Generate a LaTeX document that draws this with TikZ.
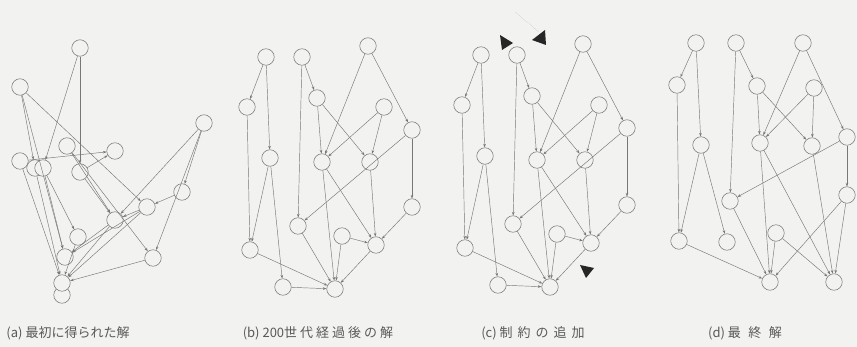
\documentclass[tikz,border=0pt]{standalone}
\usepackage{fontspec}
\newfontfamily\cjk{Noto Sans CJK JP}
\usetikzlibrary{arrows.meta}
\definecolor{bgc}{HTML}{F2F2F0}
\definecolor{inkc}{HTML}{777777}
\newcommand\cg{\hspace{3pt}}
\newcommand\cgw{\hspace{5pt}}
\newcommand\cgx{\hspace{7.5pt}}
\tikzset{
  vtx/.style={circle, draw=inkc, fill=bgc, line width=0.55pt, minimum size=16.5pt, inner sep=0pt},
  edge/.style={draw=inkc, line width=0.45pt, -{Stealth[length=3.6pt,width=2.6pt]}},
  caption/.style={font=\cjk\fontsize{13}{15}\selectfont, text=black!65},
  pointer/.style={fill=black!85}
}
\begin{document}
\begin{tikzpicture}[x=1pt,y=-1pt]
  \useasboundingbox (0,0) rectangle (857,347);
  \fill[bgc] (0,0) rectangle (857,347);

  % (a) first solution
  \foreach \n/\x/\y in {1/80/48, 2/20/87, 3/204/123, 4/67/146, 5/115/151, 6/20/161,
      7/35/168, 8/43/168, 9/80/172, 10/182/192, 11/147/207, 12/115/220, 13/78/237,
      14/65/257, 15/153/258, 17/62/295, 16/62/283}
    \node[vtx] (a\n) at (\x,\y) {};
  \foreach \s/\t in {1/8, 1/9, 2/7, 2/14, 2/11, 6/5, 6/16, 7/16, 8/14, 8/13, 9/5, 9/12,
      4/12, 4/15, 3/12, 3/10, 3/15, 10/11, 11/12, 12/14, 12/16, 11/16, 15/16, 13/16, 11/14}
    \draw[edge] (a\s) -- (a\t);

  % (b) after 200 generations, (c) same graph with constraints
  \foreach \n/\x/\y in {1/266/57, 2/302/57, 3/368/46, 4/247/107, 5/317/98, 6/384/107,
      7/412/130, 8/270/158, 9/322/162, 10/370/162, 11/412/207, 12/298/226, 13/342/236,
      14/376/245, 15/250/250, 16/283/287, 17/335/289} {
    \node[vtx] (b\n) at (\x,\y) {};
    \node[vtx] (c\n) at (\x+215,\y-2) {};
  }
  \foreach \p in {b,c}
    \foreach \s/\t in {1/4, 1/8, 2/5, 2/12, 3/9, 3/7, 4/15, 5/9, 5/10, 6/9, 6/10, 7/12,
        7/11, 8/15, 8/16, 9/17, 9/14, 10/14, 11/14, 12/17, 13/17, 13/14, 14/17, 15/17, 16/17}
      \draw[edge] (\p\s) -- (\p\t);

  % markers in (c)
  \draw[gray!60, densely dotted, line width=0.4pt] (515,12) -- (539,32);
  \fill[pointer] (500,35) -- (513,43) -- (502,50) -- cycle;
  \fill[pointer] (545,30) -- (532,40) -- (546,45) -- cycle;
  \fill[pointer] (580,265) -- (594,268) -- (586,278) -- cycle;

  % (d) final solution
  \foreach \n/\x/\y in {1/696/43, 2/736/43, 3/803/43, 4/677/85, 5/757/86, 6/814/88,
      7/847/137, 8/701/145, 9/760/143, 10/812/146, 11/847/195, 12/730/201, 13/776/233,
      14/679/241, 15/727/242, 16/770/282, 17/834/282}
    \node[vtx] (d\n) at (\x,\y) {};
  \foreach \s/\t in {1/4, 1/8, 2/5, 2/12, 3/9, 3/7, 4/14, 5/9, 5/10, 6/9, 6/10, 7/12,
      7/11, 8/14, 8/15, 9/16, 9/17, 10/17, 11/16, 11/17, 12/16, 13/16, 13/17, 14/16}
    \draw[edge] (d\s) -- (d\t);

  % captions
  \node[caption] (capa) at (68,333) {(a) 最初に得られた解};
  \node[caption] (capb) at (318,333) {(b) 200世\cg 代\cg 経\cg 過\cg 後\cg の\cg 解};
  \node[caption] (capc) at (533,333) {(c) 制\cgw 約\cgw の\cgw 追\cgw 加};
  \node[caption] (capd) at (745,333) {(d) 最\cgx 終\cgx 解};
\end{tikzpicture}
\end{document}
